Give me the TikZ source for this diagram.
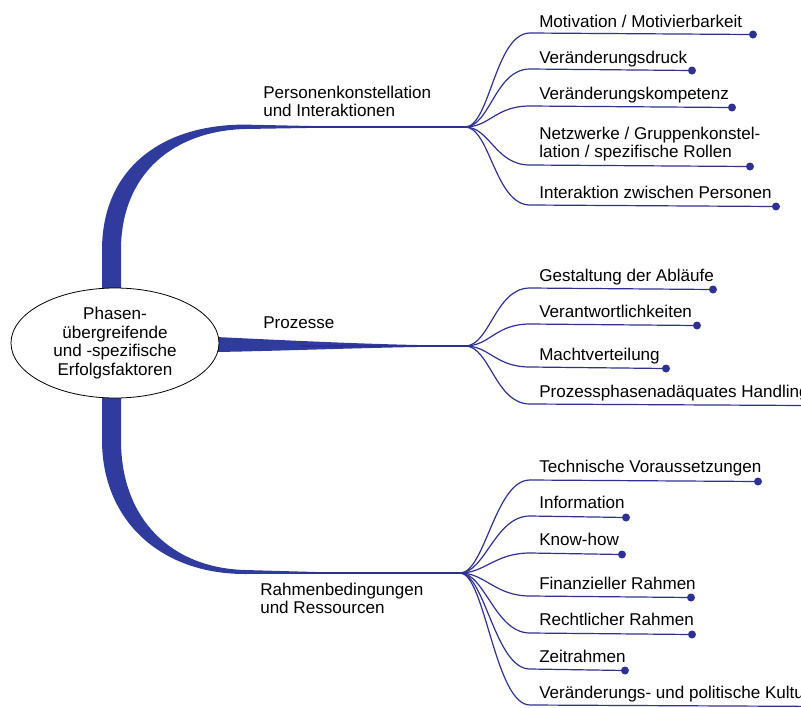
\documentclass[tikz,border=0pt]{standalone}
\usepackage{fontspec}
\setmainfont{Liberation Sans}
\usetikzlibrary{shapes.geometric}
\definecolor{bandblue}{HTML}{2F3C9E}
\definecolor{linkblue}{HTML}{2E3192}

\begin{document}
\begin{tikzpicture}[x=0.75pt,y=-0.75pt,
    txt/.style={inner sep=0pt, align=left, font=\fontsize{12.8}{13.3}\selectfont},
    leaf/.style={txt, anchor=base west},
    branch/.style={txt, anchor=base west},
    band/.style={fill=bandblue, draw=none},
    link/.style={linkblue, line width=0.9pt},
    dotmark/.style={fill=linkblue}]
  \useasboundingbox (0,0) rectangle (801,708);

  % Fan origins
  \coordinate (pkfan) at (465,127);
  \coordinate (prfan) at (465,346);
  \coordinate (rbfan) at (460,573);

  % Thick bands out of the centre
  \fill[band] (102,300) -- (102,250) .. controls (102,170) and (160,124.5) .. (245,124.6)
    -- (330,126.4) -- (330,127.6) -- (245,129) .. controls (172,131) and (121,175) .. (121,250)
    -- (121,300) -- cycle;
  \fill[band] (216,337) .. controls (280,340) and (380,345.2) .. (460,345.6)
    -- (460,346.4) .. controls (380,347) and (280,351) .. (216,352) -- cycle;
  \fill[band] (102,390) -- (102,440) .. controls (102,520) and (160,574) .. (245,574)
    -- (330,573.6) -- (330,572.4) -- (245,570) .. controls (172,568) and (121,520) .. (121,440)
    -- (121,390) -- cycle;
  \coordinate (pkend) at (300,127);
  \coordinate (prend) at (300,346);
  \coordinate (rbend) at (300,573);
  \draw[link] (pkend) -- (pkfan);
  \draw[link] (prend) -- (prfan);
  \draw[link] (rbend) -- (rbfan);

  % Centre
  \node[ellipse, draw, line width=0.6pt, fill=white, minimum width=156pt, minimum height=82.5pt,
    inner sep=0pt, align=center, font=\fontsize{12.8}{14}\selectfont] (centre) at (115,343)
    {Phasen-\\übergreifende\\und -spezifische\\Erfolgsfaktoren};

  % Branch labels (base = last line)
  \node[branch] (pklabel) at (263,116) {Personenkonstellation\\und Interaktionen};
  \node[branch] (prlabel) at (263,328) {Prozesse};
  \node[branch] (rblabel) at (260,613) {Rahmenbedingungen\\und Ressourcen};

  % Leaves: fan / line y / text y / dot x / text
  \foreach \fan/\y/\ty/\xd/\txt [count=\i] in {
      pk/33/27/753/{Motivation / Motivierbarkeit},
      pk/69/63/692/{Veränderungsdruck},
      pk/106/99/732/{Veränderungskompetenz},
      pk/165/157/750/{Netzwerke / Gruppenkonstel-\\lation / spezifische Rollen},
      pk/205/198/776/{Interaktion zwischen Personen},
      pr/288/281/713/{Gestaltung der Abläufe},
      pr/324/317/697/{Verantwortlichkeiten},
      pr/367/360/666/{Machtverteilung},
      pr/404/397/805/{Prozessphasenadäquates Handling},
      rb/480/472/758/{Technische Voraussetzungen},
      rb/516/508/626/{Information},
      rb/553/545/622/{Know-how},
      rb/596/589/691/{Finanzieller Rahmen},
      rb/633/625/692/{Rechtlicher Rahmen},
      rb/669/662/625/{Zeitrahmen},
      rb/705/698/830/{Veränderungs- und politische Kultur}} {
    \node[leaf] (leaf\i) at (539,\ty) {\txt};
    \coordinate (start\i) at (530,\y);
    \coordinate (dot\i) at (\xd,\y+1.5);
    \draw[link] (\fan fan) .. controls +(25,0) and +(-35,0) .. (start\i) -- (dot\i);
    \fill[dotmark] (dot\i) circle (3pt);
  }
\end{tikzpicture}
\end{document}
